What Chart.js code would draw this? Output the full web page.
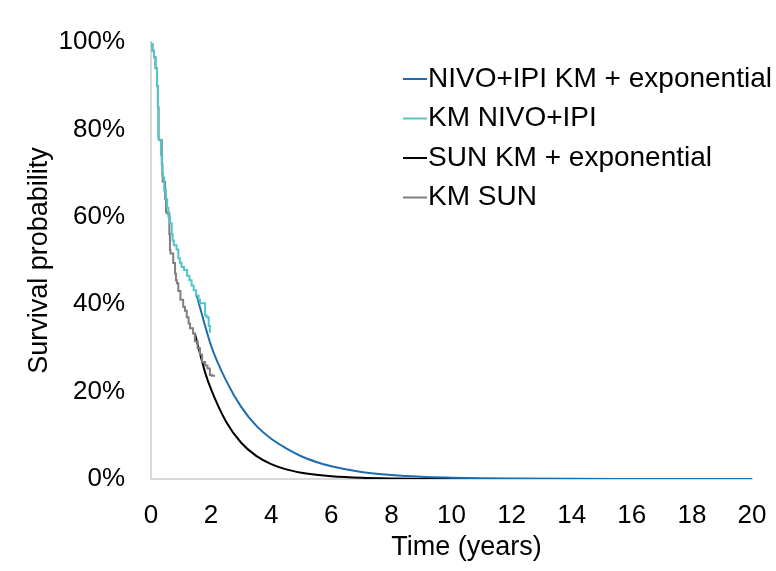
<!DOCTYPE html>
<html>
<head>
<meta charset="utf-8">
<script src="https://cdn.jsdelivr.net/npm/chart.js@4/dist/chart.umd.min.js"></script>
<style>
  html, body { margin: 0; padding: 0; background: #fff; }
  #wrap { width: 776px; height: 571px; position: relative; }
</style>
</head>
<body>
<div id="wrap"><canvas id="c" width="776" height="571"></canvas></div>
<script>
// ---- Data ----
const seriesNames = ["NIVO+IPI KM + exponential", "KM NIVO+IPI", "SUN KM + exponential", "KM SUN"];
const xTitle = "Time (years)";
const yTitle = "Survival probability";
const xTicks = [0, 2, 4, 6, 8, 10, 12, 14, 16, 18, 20];
const yTicks = [0, 20, 40, 60, 80, 100];

// Kaplan-Meier NIVO+IPI (years, survival %)
const kmNivoT = [0, 0.05, 0.1, 0.15, 0.2, 0.23, 0.25, 0.27, 0.33, 0.37, 0.40, 0.44, 0.5, 0.54, 0.58, 0.63, 0.69, 0.72, 0.76, 0.85, 0.91, 0.96, 1.02, 1.1, 1.2, 1.28, 1.35, 1.42, 1.5, 1.58, 1.63, 1.8, 1.85, 1.92, 1.96, 2.0];
const kmNivoS = [100, 99.5, 98, 96.5, 94, 90, 85, 78, 77.5, 74, 70, 69, 66, 64, 62, 60, 58.5, 56, 54.6, 53.5, 52.5, 50.5, 49.5, 48.5, 47.8, 46.5, 45.5, 44.3, 43.2, 42, 41, 40.2, 37.5, 37, 35, 33.7];

// Kaplan-Meier SUN
const kmSunT = [0, 0.05, 0.1, 0.15, 0.2, 0.23, 0.25, 0.27, 0.36, 0.38, 0.39, 0.47, 0.5, 0.52, 0.61, 0.63, 0.65, 0.74, 0.8, 0.83, 0.86, 0.91, 0.98, 1.07, 1.13, 1.19, 1.25, 1.3, 1.4, 1.46, 1.55, 1.63, 1.7, 1.8, 1.88, 1.96, 2.02, 2.13];
const kmSunS = [100, 99.5, 98, 96.5, 94, 90, 85, 78, 77.6, 72, 69.2, 68, 64, 61.2, 60.8, 56, 52.4, 51.6, 49.4, 47, 45.5, 44.8, 43, 41, 39.4, 38.5, 37, 35.6, 34.5, 33.3, 31.5, 29.9, 28.5, 26.8, 26, 25.3, 23.8, 23.6];

// KM + exponential extrapolation, NIVO+IPI
const expNivoT = [1.52, 2, 2.5, 3, 3.5, 4, 4.5, 5, 5.5, 6, 7, 8, 9, 10, 11, 12, 14, 16, 18, 20];
const expNivoS = [42, 30.5, 22.5, 16.5, 12.2, 9.2, 7.0, 5.2, 3.9, 2.9, 1.6, 0.9, 0.5, 0.3, 0.17, 0.1, 0.03, 0.01, 0.003, 0.001];

// KM + exponential extrapolation, SUN
const expSunT = [1.46, 1.8, 2, 2.5, 3, 3.5, 4, 4.5, 5, 5.5, 6, 7, 8, 9, 10, 12, 14, 16, 18, 20];
const expSunS = [33.3, 24.4, 20.5, 13.1, 8.3, 5.3, 3.4, 2.2, 1.45, 0.95, 0.62, 0.26, 0.11, 0.05, 0.02, 0.005, 0, 0, 0, 0];

const colors = ["#1B6DB0", "#52C5CA", "#000000", "#7F7F7F"];

function pts(t, s) { return t.map((v, i) => ({ x: v, y: s[i] })); }

const FONT = "'Liberation Sans', Arial, sans-serif";

const legendPlugin = {
  id: 'customLegend',
  afterDraw(chart) {
    const ctx = chart.ctx;
    ctx.save();
    ctx.font = "28px " + FONT;
    ctx.textBaseline = 'middle';
    ctx.fillStyle = '#000';
    const x0 = 403, lineLen = 24, y0 = 79, dy = 39.5;
    chart.data.datasets.forEach((ds, i) => {
      const y = y0 + i * dy;
      ctx.strokeStyle = ds.borderColor;
      ctx.lineWidth = 2;
      ctx.beginPath();
      ctx.moveTo(x0, y);
      ctx.lineTo(x0 + lineLen, y);
      ctx.stroke();
      ctx.fillText(ds.label, x0 + lineLen + 1, y);
    });
    // x-axis title (sits slightly right of the plot centre in the reference)
    ctx.font = "27px " + FONT;
    ctx.textAlign = 'center';
    ctx.fillText(xTitle, chart.chartArea.left + (chart.chartArea.right - chart.chartArea.left) * 0.525, 548);
    ctx.restore();
  }
};

new Chart(document.getElementById('c'), {
  type: 'line',
  data: {
    datasets: [
      { label: seriesNames[0], data: pts(expNivoT, expNivoS), borderColor: colors[0], borderWidth: 2, pointRadius: 0, cubicInterpolationMode: 'monotone', order: 3 },
      { label: seriesNames[1], data: pts(kmNivoT, kmNivoS), borderColor: colors[1], borderWidth: 2, pointRadius: 0, stepped: 'after', order: 1 },
      { label: seriesNames[2], data: pts(expSunT, expSunS), borderColor: colors[2], borderWidth: 2, pointRadius: 0, cubicInterpolationMode: 'monotone', order: 4 },
      { label: seriesNames[3], data: pts(kmSunT, kmSunS), borderColor: colors[3], borderWidth: 2, pointRadius: 0, stepped: 'after', order: 2 }
    ]
  },
  options: {
    responsive: false,
    animation: false,
    layout: { padding: { top: 42, right: 24, left: 0, bottom: 0 }, autoPadding: false },
    plugins: { legend: { display: false }, tooltip: { enabled: false } },
    scales: {
      x: {
        type: 'linear', min: 0, max: 20,
        afterBuildTicks: (s) => { s.ticks = xTicks.map(v => ({ value: v })); },
        afterFit: (s) => { s.height = 92; s.paddingRight = 0; s.paddingLeft = 0; },
        grid: { display: false, drawTicks: false },
        border: { display: true, color: '#D9D9D9', width: 2 },
        ticks: { color: '#000', font: { family: FONT, size: 26 }, padding: 21, maxRotation: 0 },
        title: { display: false }
      },
      y: {
        min: 0, max: 100,
        afterBuildTicks: (s) => { s.ticks = yTicks.map(v => ({ value: v })); },
        afterFit: (s) => { s.width = 151; s.paddingTop = 0; s.paddingBottom = 0; },
        grid: { display: false, drawTicks: false },
        border: { display: true, color: '#D9D9D9', width: 2 },
        ticks: { color: '#000', font: { family: FONT, size: 26 }, padding: 26, callback: (v) => v + '%' },
        title: { display: true, text: yTitle, color: '#000', font: { family: FONT, size: 27 }, padding: { top: 23, bottom: 0 } }
      }
    }
  },
  plugins: [legendPlugin]
});
</script>
</body>
</html>
